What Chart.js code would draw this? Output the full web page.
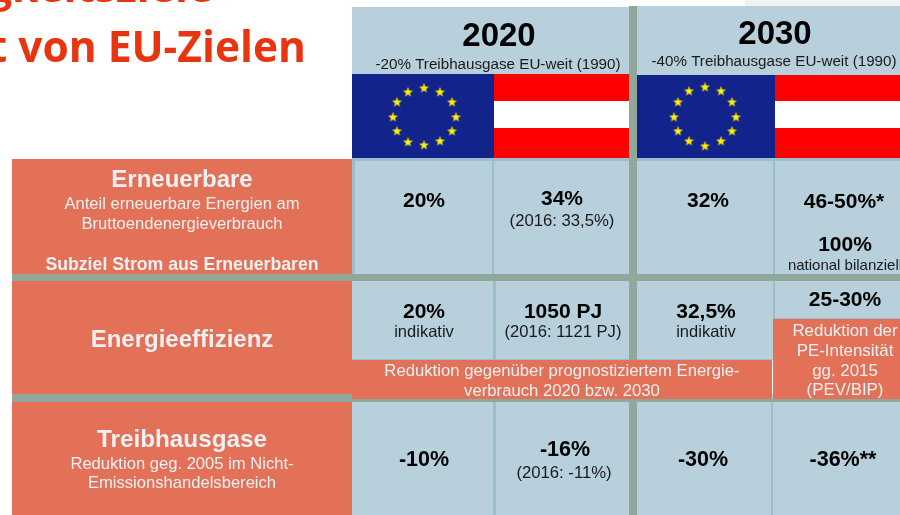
<!DOCTYPE html>
<html><head><meta charset="utf-8">
<style>html,body{margin:0;padding:0;background:#fff}canvas{display:block}</style>
<script src="https://cdn.jsdelivr.net/npm/chart.js@4"></script>
</head><body><canvas id="c" width="900" height="515"></canvas>
<script>
// --- chart text ---
const titleLines = ['igkeitsziele', 't von EU-Zielen'];
const years = ['2020', '2030'];
const yearNotes = ['-20% Treibhausgase EU-weit (1990)', '-40% Treibhausgase EU-weit (1990)'];
const rowTitles = ['Erneuerbare', 'Energieeffizienz', 'Treibhausgase'];
const rowNotes = ['Anteil erneuerbare Energien am', 'Bruttoendenergieverbrauch', 'Reduktion geg. 2005 im Nicht-', 'Emissionshandelsbereich'];
const subGoal = 'Subziel Strom aus Erneuerbaren';
const renewableTargets = ['20%', '34%', '32%', '46-50%*', '100%'];
const renewableNotes = ['(2016: 33,5%)', 'national bilanziell'];
const efficiencyTargets = ['20%', '1050 PJ', '32,5%', '25-30%'];
const efficiencyNotes = ['indikativ', '(2016: 1121 PJ)', 'indikativ'];
const efficiencyBand = ['Reduktion gegenüber prognostiziertem Energie-', 'verbrauch 2020 bzw. 2030'];
const efficiencySide = ['Reduktion der', 'PE-Intensität', 'gg. 2015', '(PEV/BIP)'];
const ghgTargets = ['-10%', '-16%', '-30%', '-36%**'];
const ghgNotes = ['(2016: -11%)'];

// --- colours ---
const BLUE='#b7d0dc', EDGE='#9bbdd0', GREY='#91a79c', ORANGE='#e37158', EU='#12238c', RED='#ff0000', WHITE='#ffffff', SOFT='#eef0f3', INK='#000000', DARK='#1a1a1a', TITLE='#e8340f', HAZE='#eef3f6';

// --- table blocks: left, right, top, bottom, colour (first = on top) ---
const blocks = [
  [772,773,360,394,WHITE],
  [773,900,319,399,ORANGE],
  [352,772,360,399,ORANGE],
  [629,637,6,515,GREY],
  [12,900,274,281,GREY],
  [12,352,394,402,GREY],
  [352,900,399,402,GREY],
  [352,355,159,274,EDGE],
  [492,494,159,274,EDGE],
  [773,775,159,274,EDGE],
  [493,496,281,360,EDGE],
  [773,775,281,319,EDGE],
  [493,496,402,515,EDGE],
  [771,773,402,515,EDGE],
  [352,900,158,161,EDGE],
  [352,772,359,360,EDGE],
  [773,900,318,319,EDGE],
  [352,494,74,158,EU],
  [494,629,74,101,RED],
  [494,629,101,128,WHITE],
  [494,629,128,158,RED],
  [637,775,75,159,EU],
  [775,900,75,101,RED],
  [775,900,101,128,WHITE],
  [775,900,128,158,RED],
  [352,629,7,74,BLUE],
  [637,900,6,75,BLUE],
  [352,900,161,515,BLUE],
  [12,352,159,274,ORANGE],
  [12,352,281,394,ORANGE],
  [12,352,402,515,ORANGE],
  [745,900,0,6,HAZE]
];

// --- stars read from the flags ---
const starX = [424,408,440,397,393,397,408,424,440,452,456,452, 705,689,721,678,732,674,736,678,732,689,721,705];
const starY = [88,92,92,102,117,131,142,145,141,102,117,131, 87,91,91,102,102,117,117,131,131,141,141,146];

// --- text placement: string, centre x, baseline y, px, bold, colour ---
const C1=182, A=424, B=563, E=845;
const texts = [
  [years[0],499,46,33,1,INK],[yearNotes[0],498,69,15.2,0,DARK],
  [years[1],775,44,33,1,INK],[yearNotes[1],774,66,15.2,0,DARK],
  [rowTitles[0],C1,187,24,1,SOFT],[rowNotes[0],C1,209,16.6,0,SOFT],[rowNotes[1],C1,229,16.6,0,SOFT],[subGoal,C1,270,17.7,1,SOFT],
  [rowTitles[1],C1,347,24,1,SOFT],
  [rowTitles[2],C1,447,24.3,1,SOFT],[rowNotes[2],C1,469,16.6,0,SOFT],[rowNotes[3],C1,488,16.6,0,SOFT],
  [renewableTargets[0],A,207,21,1,INK],[renewableTargets[1],562,205,21,1,INK],[renewableTargets[2],708,207,21,1,INK],[renewableTargets[3],844,208,21,1,INK],[renewableTargets[4],845,251,21,1,INK],
  [renewableNotes[0],562,226,16.7,0,DARK],[renewableNotes[1],845,270,15,0,DARK],
  [efficiencyTargets[0],A,318,21,1,INK],[efficiencyTargets[1],B,318,21,1,INK],[efficiencyTargets[2],706,318,21,1,INK],[efficiencyTargets[3],E,306,21,1,INK],
  [efficiencyNotes[0],A,337,16.5,0,DARK],[efficiencyNotes[1],B,337,16.6,0,DARK],[efficiencyNotes[2],706,337,16.5,0,DARK],
  [efficiencyBand[0],562,376,16.7,0,SOFT],[efficiencyBand[1],562,396,16.7,0,SOFT],
  [efficiencySide[0],E,336,16.9,0,SOFT],[efficiencySide[1],E,356,16.9,0,SOFT],[efficiencySide[2],E,376,16.9,0,SOFT],[efficiencySide[3],E,395,16.9,0,SOFT],
  [ghgTargets[0],A,466,21.5,1,INK],[ghgTargets[1],565,456,21.5,1,INK],[ghgTargets[2],703,466,21.5,1,INK],[ghgTargets[3],843,466,21.5,1,INK],
  [ghgNotes[0],564,478,16.7,0,DARK]
];

const star = document.createElement('canvas'); star.width=star.height=11;
{const s=star.getContext('2d');s.fillStyle='#fff000';s.beginPath();
 for(let i=0;i<10;i++){const r=i%2?2.1:5.2,a=-Math.PI/2+i*Math.PI/5;s[i?'lineTo':'moveTo'](5.5+r*Math.cos(a),5.8+r*Math.sin(a));}
 s.closePath();s.fill();}

const tablePlugin = {
  id:'tableText',
  afterDatasetsDraw(chart){
    const {ctx,scales:{x,y}}=chart;
    ctx.save();
    ctx.textBaseline='alphabetic';
    ctx.fillStyle=TITLE;ctx.textAlign='right';
    ctx.font='bold 42.5px "Open Sans"';
    ctx.fillText(titleLines[0],x.getPixelForValue(213),y.getPixelForValue(2));
    ctx.fillText(titleLines[1],x.getPixelForValue(306),y.getPixelForValue(62));
    ctx.textAlign='center';
    for(const [t,cx,by,size,bold,col] of texts){
      ctx.font=(bold?'bold ':'')+size+'px "Liberation Sans"';
      ctx.fillStyle=col;
      ctx.fillText(t,x.getPixelForValue(cx),y.getPixelForValue(by));
    }
    ctx.restore();
  }
};

const datasets = blocks.map(([l,r,t,b,col])=>({
  type:'bar',
  data:[{x:(l+r)/2,y:[t,b]}],
  backgroundColor:col,borderWidth:0,barThickness:r-l,grouped:false,inflateAmount:0,order:2
}));
datasets.unshift({
  type:'scatter',
  data:starX.map((v,i)=>({x:v,y:starY[i]})),
  pointStyle:star,pointRadius:5,order:0
});

new Chart(document.getElementById('c'),{
  data:{datasets},
  options:{
    responsive:false,animation:false,
    layout:{padding:0,autoPadding:false},
    plugins:{legend:{display:false},tooltip:{enabled:false}},
    scales:{
      x:{type:'linear',min:0,max:900,offset:false,display:false,grid:{display:false}},
      y:{type:'linear',min:0,max:515,reverse:true,display:false,grid:{display:false}}
    }
  },
  plugins:[tablePlugin]
});
</script></body></html>
